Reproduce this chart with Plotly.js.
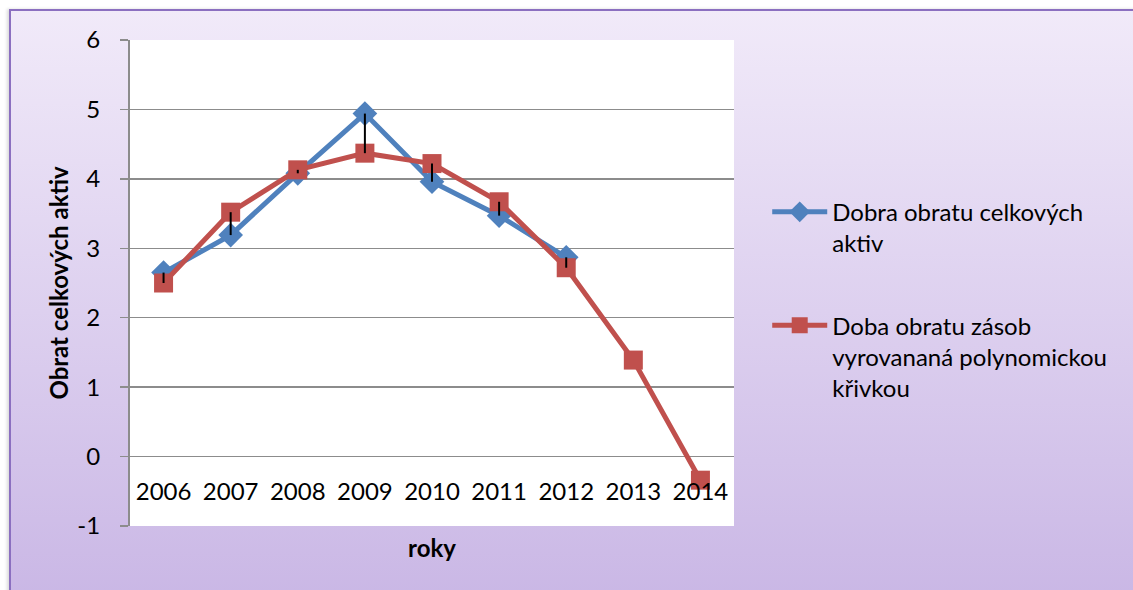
<!DOCTYPE html>
<html>
<head>
<meta charset="utf-8">
<script src="https://cdn.plot.ly/plotly-3.0.1.min.js"></script>
<style>
  html, body { margin: 0; padding: 0; background: #ffffff; overflow: hidden; }
  #frame { position: absolute; left: 9px; top: 9px; width: 1140px; height: 600px;
           border-left: 2px solid #8b6fc0; border-top: 2px solid #8b6fc0;
           background: linear-gradient(to bottom, #f1eaf9 0%, #c9b6e5 100%);
           box-shadow: -2px 0 3px rgba(0,0,0,0.15); }
  #chart { position: absolute; left: 0; top: 0; width: 1133px; height: 590px; }
</style>
</head>
<body>
<div id="frame"></div>
<div id="chart"></div>
<script>
var years = ['2006', '2007', '2008', '2009', '2010', '2011', '2012', '2013', '2014'];
var blueYears = ['2006', '2007', '2008', '2009', '2010', '2011', '2012'];
var blueValues = [2.65, 3.19, 4.08, 4.94, 3.96, 3.47, 2.87];
var redValues = [2.50, 3.52, 4.13, 4.37, 4.22, 3.67, 2.72, 1.39, -0.34];
var yTicks = [-1, 0, 1, 2, 3, 4, 5, 6];
var blueName = 'Dobra obratu celkových<br>aktiv';
var redName = 'Doba obratu zásob<br>vyrovananá polynomickou<br>křivkou';

// high-low connector segments built from the two series
var hlX = [], hlY = [];
for (var i = 0; i < blueYears.length; i++) {
  hlX.push(blueYears[i], blueYears[i], null);
  hlY.push(blueValues[i], redValues[i], null);
}

var FONT = 'Lato, "Open Sans", sans-serif';
var FS = 24;

var traces = [
  {
    x: blueYears, y: blueValues, type: 'scatter', mode: 'lines+markers',
    name: blueName, legendgroup: 'a',
    line: { color: '#4f81bd', width: 5 },
    marker: { symbol: 'diamond', size: 19, color: '#4f81bd' }
  },
  {
    x: years, y: redValues, type: 'scatter', mode: 'lines+markers',
    name: redName, legendgroup: 'b',
    line: { color: '#c0504d', width: 5 },
    marker: { symbol: 'square', size: 19, color: '#c0504d' }
  },
  {
    x: hlX, y: hlY, type: 'scatter', mode: 'lines', showlegend: false,
    hoverinfo: 'skip', line: { color: '#000000', width: 2 }
  }
];

var layout = {
  width: 1133, height: 590,
  margin: { l: 130, r: 399, t: 40, b: 64 },
  paper_bgcolor: 'rgba(0,0,0,0)',
  plot_bgcolor: '#ffffff',
  font: { family: FONT, size: FS, color: '#000000' },
  showlegend: true,
  legend: {
    x: 1.055, xanchor: 'left', y: 0.692, yanchor: 'top',
    bgcolor: 'rgba(0,0,0,0)', font: { family: FONT, size: FS, color: '#000' },
    valign: 'top', itemwidth: 55, tracegroupgap: 48, traceorder: 'grouped'
  },
  xaxis: {
    type: 'category', categoryarray: years, categoryorder: 'array',
    range: [-0.5, 8.5],
    anchor: 'free', position: 1 / 7,
    showline: false, showgrid: false, zeroline: false, ticks: '',
    tickfont: { family: FONT, size: FS, color: '#000' },
    ticklabelstandoff: 18,
    title: { text: '<b>roky</b>', font: { family: FONT, size: FS, color: '#000' }, standoff: 36 },
    fixedrange: true
  },
  yaxis: {
    range: [-1, 6], tickvals: yTicks, ticktext: yTicks.map(String),
    showgrid: true, gridcolor: '#8c8c8c', gridwidth: 1.5,
    zeroline: false, showline: true, linecolor: '#8c8c8c', linewidth: 2,
    ticks: 'outside', ticklen: 8, tickcolor: '#8c8c8c', tickwidth: 1.5,
    ticklabelstandoff: 15,
    tickfont: { family: FONT, size: FS, color: '#000' },
    title: { text: '<b>Obrat celkových aktiv</b>', font: { family: FONT, size: FS, color: '#000' }, standoff: 2 },
    fixedrange: true
  }
};

Plotly.newPlot('chart', traces, layout, { displayModeBar: false, staticPlot: true });
</script>
</body>
</html>
